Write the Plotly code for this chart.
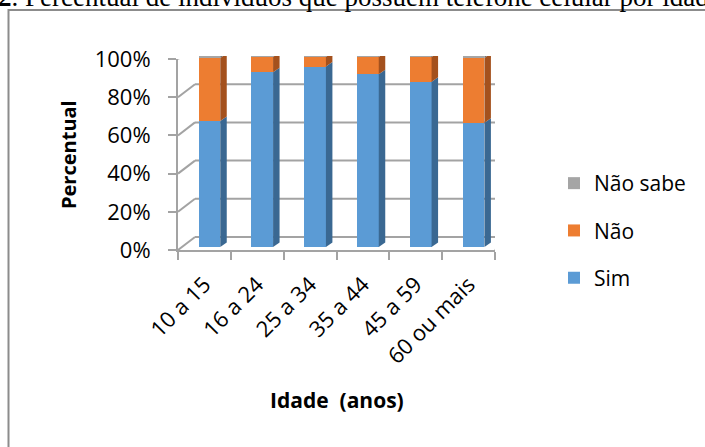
import plotly.graph_objects as go

# Share of people with a mobile phone, by age group (%)
faixas = ["10 a 15", "16 a 24", "25 a 34", "35 a 44", "45 a 59", "60 ou mais"]
sim = [66.0, 91.5, 94.5, 90.5, 86.5, 65.0]
nao = [33.0, 8.0, 5.0, 9.0, 13.0, 34.0]
nao_sabe = [1.0, 0.5, 0.5, 0.5, 0.5, 1.0]
y_ticks = [0, 20, 40, 60, 80, 100]

W, H = 705, 447
FONT = "Open Sans"
GRID = "#A3A3A3"

# front plane of the 3-D box (pixels)
FX0, FX1 = 178, 495
FY0, FY1 = 250, 59
# bars sit a little behind the front plane
BAR_DX, BAR_DY = 5, 3
# depth of the walls and of each bar, in pixels
WALL_DX, WALL_DY = 17, 13
COL_DX, COL_DY = 6.5, 4.5

XR = (-0.5, len(faixas) - 0.5)
YR = (0, 100)
ux = (XR[1] - XR[0]) / (FX1 - FX0)  # data units per px
uy = (YR[1] - YR[0]) / (FY0 - FY1)

def px_dom(a, b, total):
    return [a / total, b / total]

xs = list(range(len(faixas)))
bar_w = 0.41

series = [
    ("Sim", sim, "#5B9BD5", "#3A6892", 3),
    ("Não", nao, "#ED7D31", "#A4511D", 2),
    ("Não sabe", nao_sabe, "#A5A5A5", "#707070", 1),
]

fig = go.Figure()

# front faces of the stacked columns
for name, vals, front, side, rank in series:
    fig.add_trace(go.Bar(
        x=xs, y=vals, name=name, marker=dict(color=front, line=dict(width=0)),
        width=bar_w, xaxis="x2", yaxis="y2", legendgroup=name, legendrank=rank,
        hoverinfo="skip",
    ))

# side and top faces, computed from the stacked values
ddx, ddy = COL_DX * ux, COL_DY * uy
bottoms = [0.0] * len(xs)
for name, vals, front, side, rank in series:
    for i, v in enumerate(vals):
        y0, y1 = bottoms[i], bottoms[i] + v
        xr = xs[i] + bar_w / 2
        fig.add_trace(go.Scatter(
            x=[xr, xr + ddx, xr + ddx, xr, xr],
            y=[y0, y0 + ddy, y1 + ddy, y1, y0],
            fill="toself", fillcolor=side, mode="lines", line=dict(width=0),
            xaxis="x2", yaxis="y2", showlegend=False, hoverinfo="skip",
        ))
        bottoms[i] = y1
top_col = "#8A8A8A"
for i in xs:
    t = bottoms[i]
    xl, xr = xs[i] - bar_w / 2, xs[i] + bar_w / 2
    fig.add_trace(go.Scatter(
        x=[xl, xl + ddx, xr + ddx, xr, xl],
        y=[t, t + ddy, t + ddy, t, t],
        fill="toself", fillcolor=top_col, mode="lines", line=dict(width=0),
        xaxis="x2", yaxis="y2", showlegend=False, hoverinfo="skip",
    ))

# walls: back-wall gridlines, side-wall diagonals and floor
wdx, wdy = WALL_DX * ux, WALL_DY * uy
shapes = []
line = dict(color=GRID, width=2)
for v in y_ticks:
    shapes.append(dict(type="line", xref="x", yref="y", layer="below",
                       x0=XR[0] + wdx, x1=XR[1] + wdx, y0=v + wdy, y1=v + wdy, line=line))
    shapes.append(dict(type="line", xref="x", yref="y", layer="below",
                       x0=XR[0], x1=XR[0] + wdx, y0=v, y1=v + wdy, line=line))
shapes.append(dict(type="line", xref="x", yref="y", layer="below",
                   x0=XR[1], x1=XR[1] + wdx, y0=0, y1=wdy, line=line))
# page frame
shapes.append(dict(type="rect", xref="paper", yref="paper",
                   x0=8.5 / W, x1=1.02, y0=-0.02, y1=1 - 10 / H,
                   line=dict(color="#8C8C8C", width=2), layer="below"))

fig.update_layout(
    width=W, height=H,
    margin=dict(l=0, r=0, t=0, b=0, pad=0, autoexpand=False),
    paper_bgcolor="white", plot_bgcolor="rgba(0,0,0,0)",
    barmode="stack", bargap=0,
    font=dict(family=FONT, size=21, color="#000"),
    shapes=shapes,
    showlegend=True,
    legend=dict(
        x=554 / W, y=1 - 163 / H, xanchor="left", yanchor="top",
        traceorder="grouped", tracegroupgap=17,
        font=dict(family=FONT, size=21, color="#000"),
        bgcolor="rgba(0,0,0,0)",
    ),
    xaxis=dict(
        domain=px_dom(FX0, FX1, W), range=list(XR), tickmode="array",
        tickvals=xs, ticktext=faixas, tickangle=-45, ticks="",
        tickfont=dict(size=22), ticklabelstandoff=11,
        showline=True, linecolor=GRID, linewidth=2,
        showgrid=False, zeroline=False, fixedrange=True, automargin=False,
        minor=dict(tickmode="array", tickvals=[x - 0.5 for x in xs] + [xs[-1] + 0.5],
                   ticks="outside", ticklen=8, tickwidth=2, tickcolor=GRID, showgrid=False),
        anchor="y",
    ),
    yaxis=dict(
        domain=[1 - FY0 / H, 1 - FY1 / H], range=list(YR), tickmode="array",
        tickvals=y_ticks, ticktext=[f"{v}%" for v in y_ticks],
        ticks="outside", ticklen=8, tickwidth=2, tickcolor=GRID,
        tickfont=dict(size=22), ticklabelstandoff=13, automargin=False,
        showline=True, linecolor=GRID, linewidth=2,
        showgrid=False, zeroline=False, fixedrange=True, anchor="x",
    ),
    xaxis2=dict(
        domain=px_dom(FX0 + BAR_DX, FX1 + BAR_DX, W), range=list(XR),
        visible=False, fixedrange=True, anchor="y2",
    ),
    yaxis2=dict(
        domain=[1 - (FY0 - BAR_DY) / H, 1 - (FY1 - BAR_DY) / H], range=list(YR),
        visible=False, fixedrange=True, anchor="x2",
    ),
    annotations=[
        dict(text="<b>2</b>. Percentual de indivíduos que possuem telefone celular por idade",
             xref="paper", yref="paper", x=-4 / W, y=1 - 14 / H,
             xanchor="left", yanchor="bottom", showarrow=False,
             font=dict(family="Liberation Serif", size=27, color="#000")),
        dict(text="<b>Percentual</b>", xref="paper", yref="paper",
             x=68 / W, y=1 - 155 / H, xanchor="center", yanchor="middle",
             textangle=-90, showarrow=False,
             font=dict(family=FONT, size=20, color="#000")),
        dict(text="<b>Idade \u00a0(anos)</b>", xref="paper", yref="paper",
             x=337 / W, y=1 - 400 / H, xanchor="center", yanchor="middle",
             showarrow=False, font=dict(family=FONT, size=21, color="#000")),
    ],
)

fig.write_html("out.html")
